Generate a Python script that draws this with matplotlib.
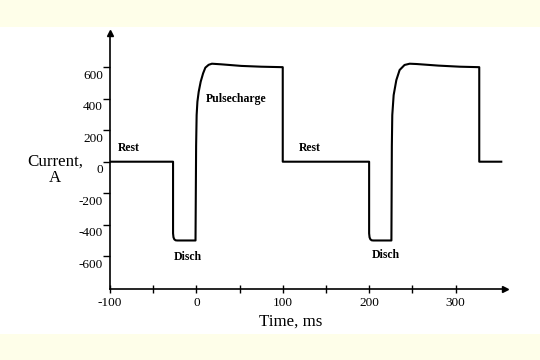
import matplotlib.pyplot as plt
from matplotlib.patches import Rectangle
from matplotlib.transforms import ScaledTranslation

plt.rcParams['font.family'] = ['Liberation Serif', 'DejaVu Serif']

# waveform: time (ms) and current (A)
time_ms = [-100, -27, -27, -26.5, -25.5, -24, -22, -1.0,
           -0.3, 0.3, 1.2, 2.7, 5, 7.8, 10.4, 14.2, 18, 29, 52, 75, 100, 100,
           200, 200, 200.5, 201.5, 203, 205, 225.8,
           226.3, 226.8, 228.4, 231.5, 235.3, 241, 247, 255, 280, 305, 327.5, 327.5,
           353]
current_a = [0, 0, -455, -480, -493, -499, -500, -500,
             100, 296, 381, 444, 508, 561, 597, 615, 622, 618, 608, 603, 600, 0,
             0, -455, -480, -493, -499, -500, -500,
             100, 296, 423, 518, 582, 614, 622, 620, 610, 603, 600, 0,
             0]

y_ticks = [-600, -400, -200, 0, 200, 400, 600]
x_ticks = [-100, 0, 100, 200, 300]
x_minor = [-50, 50, 150, 250]

phase_labels = ['Rest', 'Pulsecharge', 'Rest', 'Disch', 'Disch']
label_t = [-90.5, 11.5, 118.5, -25.8, 202.5]
label_i = [87, 396, 87, -607, -592]

fig = plt.figure(figsize=(5.4, 3.6), dpi=100, facecolor='#fefee9')
fig.add_artist(Rectangle((0, 0.072), 1, 0.854, transform=fig.transFigure,
                         facecolor='white', edgecolor='none', zorder=-10))

ax = fig.add_axes([0.2037, 0.1972, 0.731, 0.7103])
ax.set_facecolor('none')
ax.plot(time_ms, current_a, color='black', lw=1.5, solid_joinstyle='round')

ax.set_xlim(-100, 357)
ax.set_ylim(-808, 815)
for s in ['top', 'right']:
    ax.spines[s].set_visible(False)
for s in ['left', 'bottom']:
    ax.spines[s].set_linewidth(1.2)

ax.set_yticks(y_ticks)
ax.set_yticklabels([str(v) for v in y_ticks], fontsize=9.5)
ax.set_xticks(x_ticks)
ax.set_xticklabels([str(v) for v in x_ticks], fontsize=9.5)
ax.set_xticks(x_minor, minor=True)
ax.tick_params(axis='y', direction='out', length=5, width=1, pad=0, color='black')
ax.tick_params(axis='x', which='both', direction='inout', length=6, width=1, pad=3)

shift = ScaledTranslation(0, -0.07, fig.dpi_scale_trans)
for lab in ax.get_yticklabels():
    lab.set_transform(lab.get_transform() + shift)

# axis arrows
ax.plot(1, 0, '>', color='black', ms=5, transform=ax.transAxes, clip_on=False)
ax.plot(0, 1, '^', color='black', ms=5, transform=ax.transAxes, clip_on=False)

for txt, t, i in zip(phase_labels, label_t, label_i):
    ax.text(t, i, txt, fontsize=8.5, fontweight='bold', ha='left', va='center')

fig.text(55.3 / 540, 1 - 170 / 360, 'Current,\nA', fontsize=12.2, ha='center',
         va='center', multialignment='center', linespacing=1.05)
fig.text(290.5 / 540, 1 - 321.7 / 360, 'Time, ms', fontsize=12.2, ha='center', va='center')

fig.savefig('out.png', dpi=100, facecolor=fig.get_facecolor())
